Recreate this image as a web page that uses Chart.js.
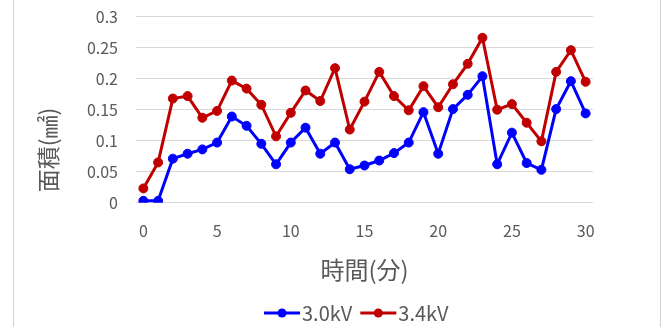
<!DOCTYPE html>
<html lang="ja">
<head>
<meta charset="utf-8">
<title>面積の推移</title>
<script src="https://cdn.jsdelivr.net/npm/chart.js@4/dist/chart.umd.min.js"></script>
<style>
  html, body { margin: 0; padding: 0; background: #ffffff; }
  #wrap { width: 664px; height: 327px; }
</style>
</head>
<body>
<div id="wrap"><canvas id="chart" width="664" height="327"></canvas></div>
<script>
// Elapsed time (minutes)
const minutes = [0, 1, 2, 3, 4, 5, 6, 7, 8, 9, 10, 11, 12, 13, 14, 15,
                 16, 17, 18, 19, 20, 21, 22, 23, 24, 25, 26, 27, 28, 29, 30];

// Area (mm²) at 3.0 kV
const area30kV = [0.003, 0.003, 0.071, 0.079, 0.086, 0.097, 0.139, 0.124, 0.095, 0.062,
                  0.097, 0.121, 0.079, 0.097, 0.054, 0.060, 0.068, 0.080, 0.097, 0.146,
                  0.079, 0.151, 0.174, 0.204, 0.062, 0.113, 0.064, 0.053, 0.151, 0.196,
                  0.144];

// Area (mm²) at 3.4 kV
const area34kV = [0.023, 0.065, 0.168, 0.172, 0.137, 0.148, 0.197, 0.184, 0.158, 0.107,
                  0.145, 0.181, 0.164, 0.217, 0.118, 0.163, 0.211, 0.172, 0.149, 0.188,
                  0.154, 0.191, 0.224, 0.266, 0.150, 0.159, 0.129, 0.099, 0.211, 0.246,
                  0.195];

const seriesNames = ['3.0kV', '3.4kV'];
const xTickLabels = ['0', '5', '10', '15', '20', '25', '30'];
const yTickValues = [0, 0.05, 0.1, 0.15, 0.2, 0.25, 0.3];

const xTitle = '時間(分)';
const yTitle = '面積(㎟)';

const BLUE = '#0000FF';
const RED = '#C00000';
const TEXT = '#595959';
const GRID = '#D9D9D9';
const FONT = '"Noto Sans CJK JP", "Noto Sans", sans-serif';

Chart.defaults.font.family = FONT;
Chart.defaults.color = TEXT;

// Frame lines, the rotated value-axis title and the line-and-marker legend
const decor = {
  id: 'decor',
  beforeDraw(chart) {
    const ctx = chart.ctx;
    ctx.save();
    ctx.strokeStyle = '#D0D0D0';
    ctx.lineWidth = 1;
    ctx.beginPath();
    ctx.moveTo(13.5, 0); ctx.lineTo(13.5, chart.height);
    ctx.moveTo(660.5, 0); ctx.lineTo(660.5, chart.height);
    ctx.stroke();
    ctx.restore();
  },
  afterDraw(chart) {
    const ctx = chart.ctx;

    // value-axis title
    ctx.save();
    ctx.translate(48, 150);
    ctx.rotate(-Math.PI / 2);
    ctx.font = '23px ' + FONT;
    ctx.fillStyle = TEXT;
    ctx.textAlign = 'center';
    ctx.textBaseline = 'middle';
    ctx.fillText(yTitle, 0, 0);
    ctx.restore();

    // legend: swatch line with marker, then series name
    ctx.save();
    ctx.font = '20px ' + FONT;
    ctx.textBaseline = 'middle';
    ctx.textAlign = 'left';
    const y = 313;
    let x = 264;
    chart.data.datasets.forEach(ds => {
      const color = ds.borderColor;
      ctx.strokeStyle = color;
      ctx.fillStyle = color;
      ctx.lineWidth = 3;
      ctx.beginPath(); ctx.moveTo(x, y); ctx.lineTo(x + 36, y); ctx.stroke();
      ctx.beginPath(); ctx.arc(x + 18, y, 4.5, 0, Math.PI * 2); ctx.fill();
      x += 38;
      ctx.fillStyle = TEXT;
      ctx.fillText(ds.label, x, y);
      x += ctx.measureText(ds.label).width + 8;
    });
    ctx.restore();
  }
};

new Chart(document.getElementById('chart'), {
  type: 'line',
  data: {
    labels: minutes.map(String),
    datasets: [
      {
        label: seriesNames[0],
        data: area30kV,
        borderColor: BLUE,
        backgroundColor: BLUE,
        borderWidth: 3,
        pointRadius: 4.5,
        pointBorderWidth: 1,
        pointBackgroundColor: BLUE,
        pointBorderColor: BLUE,
        tension: 0,
        fill: false
      },
      {
        label: seriesNames[1],
        data: area34kV,
        borderColor: RED,
        backgroundColor: RED,
        borderWidth: 3,
        pointRadius: 4.5,
        pointBorderWidth: 1,
        pointBackgroundColor: RED,
        pointBorderColor: RED,
        tension: 0,
        fill: false
      }
    ]
  },
  options: {
    responsive: false,
    animation: false,
    devicePixelRatio: 1,
    layout: { padding: { left: 0, right: 71, top: 16.7, bottom: 26 } },
    plugins: {
      tooltip: { enabled: false },
      legend: { display: false }
    },
    scales: {
      x: {
        type: 'category',
        offset: true,
        grid: { display: false, drawTicks: false },
        border: { display: false },
        ticks: {
          autoSkip: false,
          maxRotation: 0,
          padding: 19,
          color: TEXT,
          font: { size: 16 },
          callback(value) {
            const lbl = this.getLabelForValue(value);
            return xTickLabels.includes(lbl) ? lbl : '';
          }
        },
        title: {
          display: true,
          text: xTitle,
          color: TEXT,
          font: { size: 24 },
          padding: { top: 0, bottom: 17 }
        },
        afterFit(scale) { scale.height = 98.3; }
      },
      y: {
        min: 0,
        max: 0.3,
        grid: { color: GRID, lineWidth: 1, drawTicks: false },
        border: { display: false },
        ticks: {
          padding: 18,
          color: TEXT,
          font: { size: 16 },
          callback(value) { return String(Math.round(value * 100) / 100); }
        },
        afterBuildTicks(scale) {
          scale.ticks = yTickValues.map(v => ({ value: v }));
        },
        afterFit(scale) {
          scale.width = 136;
          scale.paddingTop = 0;
          scale.paddingBottom = 0;
        }
      }
    }
  },
  plugins: [decor]
});
</script>
</body>
</html>
